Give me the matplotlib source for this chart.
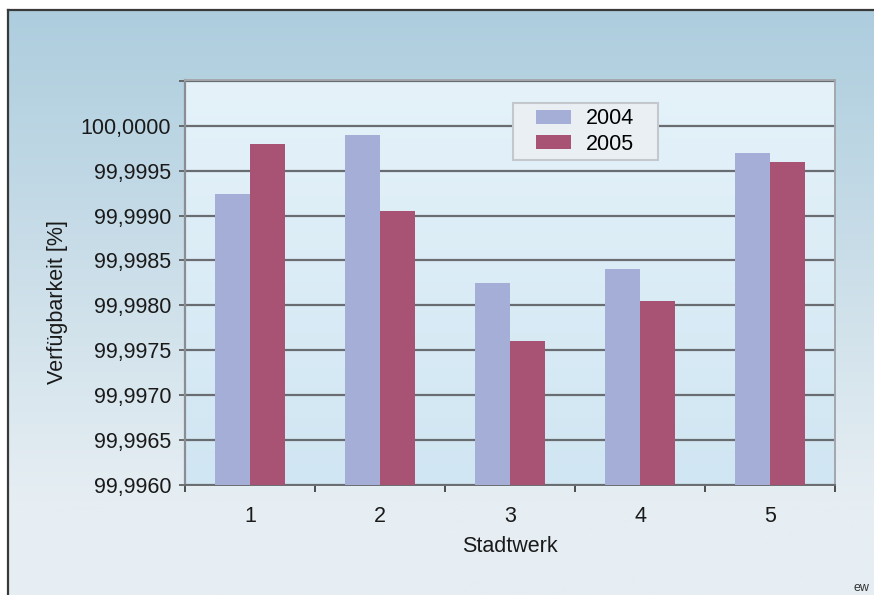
import numpy as np
import matplotlib.pyplot as plt
from matplotlib.patches import Rectangle
from matplotlib.ticker import FixedLocator, FuncFormatter

plt.rcParams["font.family"] = ["Liberation Sans", "DejaVu Sans"]

# data
stadtwerke = ["1", "2", "3", "4", "5"]
years = ["2004", "2005"]
werte_2004 = [99.99924, 99.99990, 99.99825, 99.99840, 99.99970]
werte_2005 = [99.99980, 99.99905, 99.99760, 99.99805, 99.99960]
y_ticks = [99.9960, 99.9965, 99.9970, 99.9975, 99.9980, 99.9985, 99.9990, 99.9995, 100.0000]
colors = ["#a5aed6", "#a85274"]

W, H = 874, 595
fs = 15.5
fig = plt.figure(figsize=(W / 100, H / 100), dpi=100, facecolor="white")

# outer frame with blue gradient
bg = fig.add_axes([8 / W, -0.05, 1.05, 1 - 10 / H + 0.05])
grad = np.linspace(0, 1, 256).reshape(-1, 1)
top_c = np.array([173, 205, 222]) / 255
bot_c = np.array([230, 238, 243]) / 255
img = top_c + (bot_c - top_c) * np.clip(grad * 1.25, 0, 1)[:, :, None] * np.ones((1, 1, 3))
bg.imshow(img, aspect="auto", extent=[0, 1, 0, 1], origin="upper")
bg.set_xlim(0, 1)
bg.set_ylim(0, 1)
bg.set_xticks([])
bg.set_yticks([])
for side in ["right", "bottom"]:
    bg.spines[side].set_visible(False)
for side in ["left", "top"]:
    bg.spines[side].set_color("#3a3a3a")
    bg.spines[side].set_linewidth(1.6)

# plot area
ax = fig.add_axes([185 / W, 1 - 485 / H, 650 / W, 405 / H])
ax.patch.set_visible(False)
p_top = np.array([229, 242, 250]) / 255
p_bot = np.array([208, 230, 242]) / 255
pimg = p_top + (p_bot - p_top) * grad[:, :, None] * np.ones((1, 1, 3))
ax.imshow(pimg, aspect="auto", extent=[0, 1, 0, 1], transform=ax.transAxes,
          origin="upper", zorder=0)

x = np.arange(len(stadtwerke))
w = 0.27
ax.bar(x - w / 2, werte_2004, width=w, color=colors[0], label=years[0], zorder=3)
ax.bar(x + w / 2, werte_2005, width=w, color=colors[1], label=years[1], zorder=3)

ax.set_xlim(-0.5, len(stadtwerke) - 0.5)
ax.set_ylim(99.9960, 100.00051)

# y axis: gridlines and German number format
ax.yaxis.set_major_locator(FixedLocator(y_ticks + [100.0005]))
ax.yaxis.set_major_formatter(
    FuncFormatter(lambda v, p: "" if v > 100.0002 else f"{v:.4f}".replace(".", ",")))
ax.grid(axis="y", color="#696c70", linewidth=1.6, zorder=1)
ax.tick_params(axis="y", length=4, width=1.2, color="#555555", labelsize=fs,
               pad=6, labelcolor="#1a1a1a")

# x axis: labels at categories, tick marks between them
ax.set_xticks(x)
ax.set_xticklabels(stadtwerke)
ax.tick_params(axis="x", length=0, labelsize=fs, pad=15, labelcolor="#1a1a1a")
ax.set_xticks(np.arange(-0.5, len(stadtwerke)), minor=True)
ax.tick_params(axis="x", which="minor", length=5, width=1.2, color="#333333")

for side in ["top", "right"]:
    ax.spines[side].set_color("#a3a7ab")
    ax.spines[side].set_linewidth(1.4)
ax.spines["left"].set_color("#8a8e92")
ax.spines["left"].set_linewidth(1.6)
ax.spines["bottom"].set_color("#6a6d70")
ax.spines["bottom"].set_linewidth(1.4)

ax.set_ylabel("Verfügbarkeit [%]", fontsize=fs, color="#1a1a1a")
ax.yaxis.set_label_coords(-(185 - 58) / 650, (485 - 302) / 405)
ax.set_xlabel("Stadtwerk", fontsize=fs, color="#1a1a1a")
ax.xaxis.set_label_coords(0.5, -(547 - 485) / 405)
ax.xaxis.label.set_va("center")
ax.yaxis.label.set_va("center")

# legend box (wider side padding than matplotlib's legend frame allows)
box = Rectangle(((513 - 185) / 650, (485 - 160) / 405), 145 / 650, 57 / 405,
                transform=ax.transAxes, facecolor="#e9eff3", edgecolor="#c4c8cc",
                linewidth=1.5, zorder=4)
ax.add_patch(box)
leg = ax.legend(loc="center", bbox_to_anchor=(0.616, 0.873), fontsize=fs,
                frameon=False, handlelength=1.63, handleheight=0.65,
                borderpad=0, labelspacing=0.2, borderaxespad=0,
                handletextpad=0.7)
leg.set_zorder(5)

fig.text(853 / W, 1 / H, "ew", fontsize=9, color="#333333", va="bottom")

fig.savefig("out.png", dpi=100, facecolor="white")
